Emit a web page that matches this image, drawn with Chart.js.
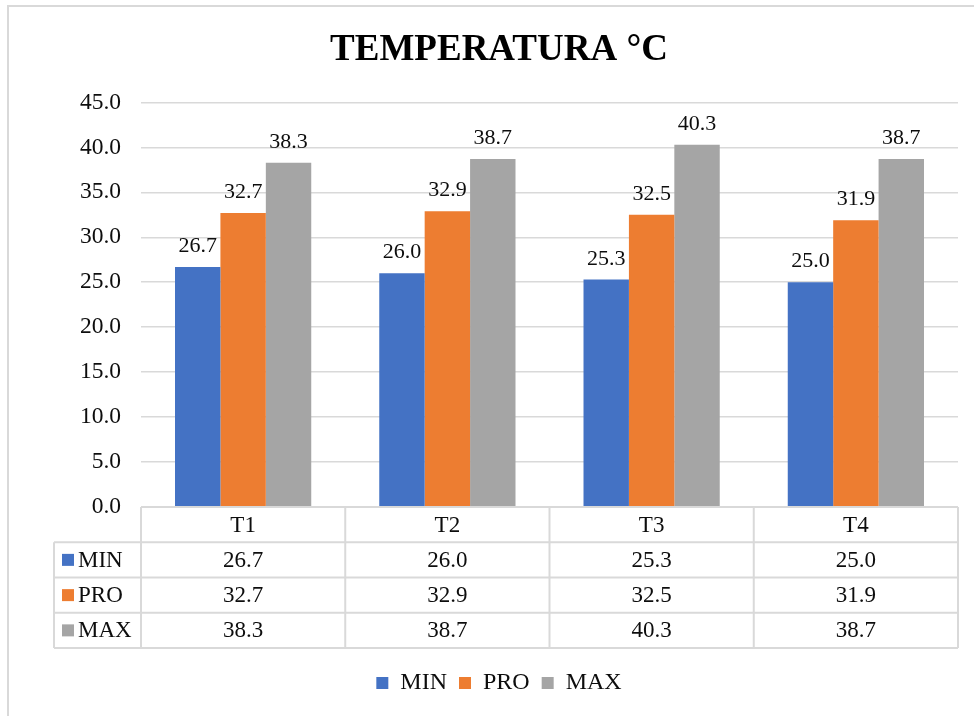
<!DOCTYPE html>
<html>
<head>
<meta charset="utf-8">
<script src="https://cdn.jsdelivr.net/npm/chart.js@4.4.1/dist/chart.umd.min.js"></script>
<style>
  html, body { margin: 0; padding: 0; background: #ffffff; }
  #wrap { position: relative; width: 974px; height: 716px; }
</style>
</head>
<body>
<div id="wrap"><canvas id="c"></canvas></div>
<script>
const titleText = 'TEMPERATURA °C';
const categories = ['T1', 'T2', 'T3', 'T4'];
const seriesNames = ['MIN', 'PRO', 'MAX'];
const minValues = [26.7, 26.0, 25.3, 25.0];
const proValues = [32.7, 32.9, 32.5, 31.9];
const maxValues = [38.3, 38.7, 40.3, 38.7];
const seriesColors = ['#4472c4', '#ed7d31', '#a5a5a5'];
const yMin = 0, yMax = 45, yStep = 5;

const FONT = "'Liberation Serif', 'Times New Roman', serif";
const TEXT = '#0d0d0d';
const LINE = '#d9d9d9';
const TABLE_H = 141;
const TITLE_SHIFT = 20;  // frame of the original extends past the right edge
const LEGEND_SHIFT = 20;

const seriesValues = [minValues, proValues, maxValues];

const framePlugin = {
  id: 'frame',
  afterLayout(chart) {
    if (chart.titleBlock) { chart.titleBlock.left += TITLE_SHIFT; chart.titleBlock.right += TITLE_SHIFT; }
    if (chart.legend) { chart.legend.left += LEGEND_SHIFT; chart.legend.right += LEGEND_SHIFT; }
  },
  beforeDraw(chart) {
    const ctx = chart.ctx;
    ctx.save();
    ctx.fillStyle = '#ffffff';
    ctx.fillRect(0, 0, chart.width, chart.height);
    ctx.strokeStyle = LINE;
    ctx.lineWidth = 2;
    ctx.beginPath();
    ctx.moveTo(8, chart.height);
    ctx.lineTo(8, 6);
    ctx.lineTo(chart.width, 6);
    ctx.stroke();
    ctx.restore();
  }
};

const labelsPlugin = {
  id: 'barLabels',
  afterDatasetsDraw(chart) {
    const ctx = chart.ctx;
    ctx.save();
    ctx.font = '22px ' + FONT;
    ctx.fillStyle = TEXT;
    ctx.textAlign = 'center';
    ctx.textBaseline = 'alphabetic';
    chart.data.datasets.forEach((ds, di) => {
      const meta = chart.getDatasetMeta(di);
      meta.data.forEach((el, i) => {
        ctx.fillText(Number(ds.data[i]).toFixed(1), el.x, el.y - 15);
      });
    });
    ctx.restore();
  }
};

const tablePlugin = {
  id: 'dataTable',
  afterDraw(chart) {
    const ctx = chart.ctx;
    const xs = chart.scales.x;
    const left = xs.left, right = xs.right;
    const top = chart.chartArea.bottom;
    const n = categories.length;
    const colW = (right - left) / n;
    const rows = seriesNames.length + 1;
    const rowH = TABLE_H / rows;
    const labelLeft = 54;
    ctx.save();
    ctx.strokeStyle = LINE;
    ctx.lineWidth = 2;
    ctx.beginPath();
    ctx.moveTo(left, top); ctx.lineTo(right, top);
    for (let r = 1; r <= rows; r++) {
      const y = top + rowH * r;
      ctx.moveTo(labelLeft, y); ctx.lineTo(right, y);
    }
    for (let c = 0; c <= n; c++) {
      const x = left + colW * c;
      ctx.moveTo(x, top); ctx.lineTo(x, top + TABLE_H);
    }
    ctx.moveTo(labelLeft, top + rowH); ctx.lineTo(labelLeft, top + TABLE_H);
    ctx.stroke();

    ctx.fillStyle = TEXT;
    ctx.font = '23px ' + FONT;
    ctx.textBaseline = 'middle';
    ctx.textAlign = 'center';
    categories.forEach((cat, c) => {
      ctx.fillText(cat, xs.getPixelForValue(c), top + rowH / 2 + 1);
    });
    seriesNames.forEach((name, s) => {
      const cy = top + rowH * (s + 1.5) + 1;
      ctx.fillStyle = seriesColors[s];
      ctx.fillRect(62, cy - 7, 12, 12);
      ctx.fillStyle = TEXT;
      ctx.textAlign = 'left';
      ctx.fillText(name, 78, cy);
      ctx.textAlign = 'center';
      seriesValues[s].forEach((v, c) => {
        ctx.fillText(v.toFixed(1), xs.getPixelForValue(c), cy);
      });
    });
    ctx.restore();
  }
};

new Chart(document.getElementById('c'), {
  type: 'bar',
  data: {
    labels: categories,
    datasets: seriesNames.map((name, s) => ({
      label: name,
      data: seriesValues[s],
      backgroundColor: seriesColors[s],
      borderWidth: 0,
      categoryPercentage: 0.667,
      barPercentage: 1.0
    }))
  },
  options: {
    responsive: true,
    maintainAspectRatio: false,
    animation: false,
    devicePixelRatio: 1,
    layout: { padding: { top: 0, left: 0, right: 16, bottom: 11 } },
    plugins: {
      title: {
        display: true,
        text: titleText,
        color: '#000000',
        font: { family: FONT, size: 37, weight: 'bold', lineHeight: 1.2 },
        padding: { top: 28, bottom: 30 }
      },
      legend: {
        display: true,
        position: 'bottom',
        labels: {
          color: TEXT,
          font: { family: FONT, size: 24 },
          boxWidth: 12,
          boxHeight: 12,
          padding: 12
        }
      },
      tooltip: { enabled: false }
    },
    scales: {
      x: {
        grid: { display: false },
        border: { display: false },
        ticks: { display: false },
        afterFit(scale) { scale.height = TABLE_H + 11; }
      },
      y: {
        min: yMin,
        max: yMax,
        ticks: {
          stepSize: yStep,
          padding: 20,
          color: TEXT,
          font: { family: FONT, size: 23.5 },
          callback: (v) => Number(v).toFixed(1)
        },
        grid: { color: LINE, lineWidth: 1.5, drawTicks: false },
        border: { display: false },
        afterFit(scale) { scale.width = 141; }
      }
    }
  },
  plugins: [framePlugin, labelsPlugin, tablePlugin]
});
</script>
</body>
</html>
